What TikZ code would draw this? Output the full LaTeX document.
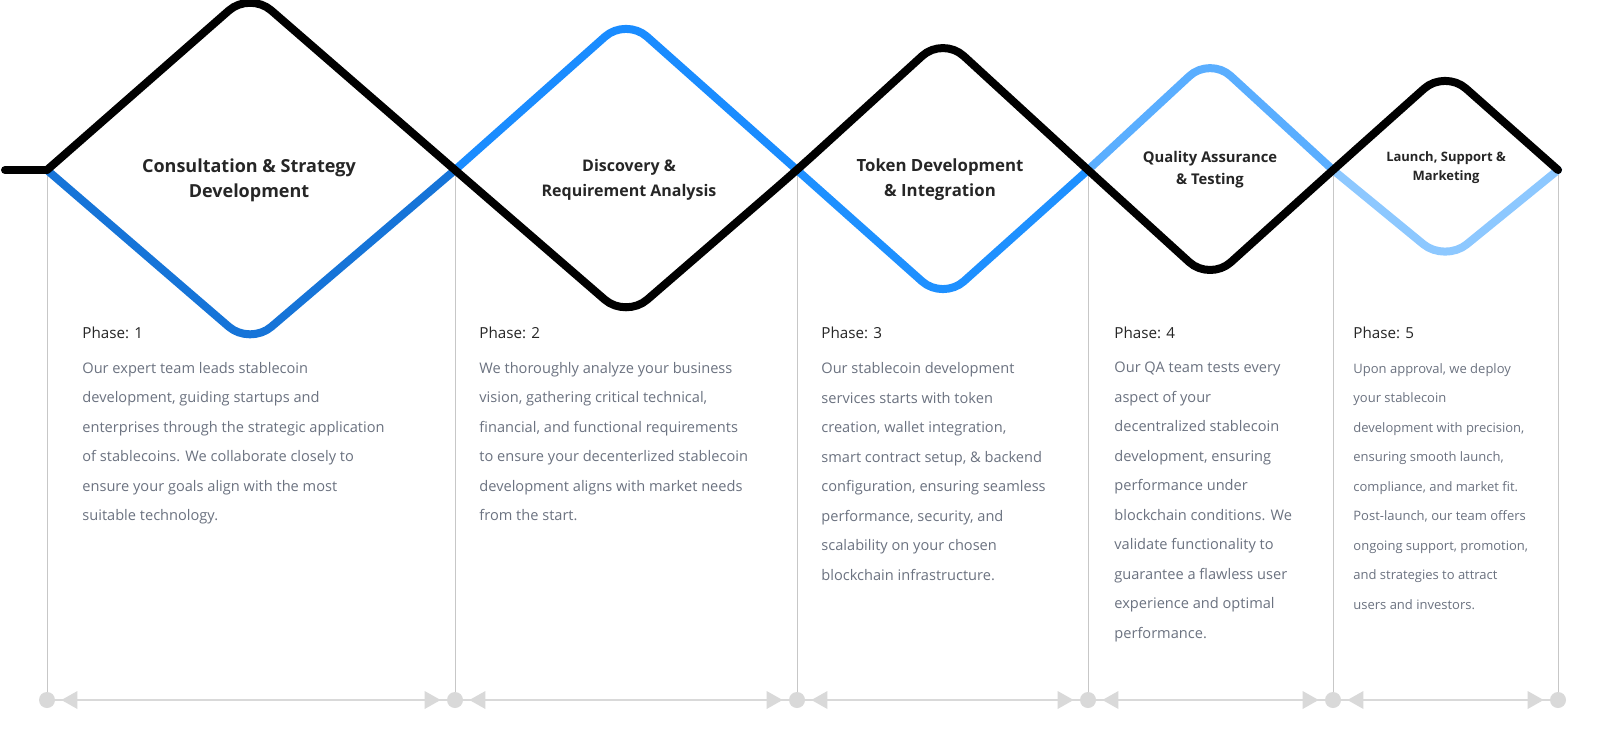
\documentclass[tikz,border=0pt]{standalone}
\usepackage{fontspec}
\setmainfont{Open Sans}
\begin{document}
\begin{tikzpicture}[x=0.5pt,y=-0.5pt,
  wave/.style={line width=4pt,rounded corners=14pt,line cap=round,line join=round},
  vline/.style={draw=black!22,line width=0.5pt},
  title/.style={align=center,font=\fontsize{9}{12.5}\selectfont\bfseries,text=black!85},
  phase/.style={anchor=north west,font=\fontsize{7.6}{10}\selectfont,text=black!85,inner sep=0},
  body/.style={anchor=north west,align=left,font=\fontsize{7.3}{14.75}\selectfont,text=bodyc,inner sep=0},
  dot/.style={circle,fill=black!15,inner sep=0,minimum size=8pt},
  tri/.style={fill=black!15}]
\definecolor{bodyc}{HTML}{6B7280}
\fill[white] (0,0) rectangle (1600,739);
\useasboundingbox (0,0) rectangle (1600,739);
\definecolor{c1}{HTML}{1674D8}
\definecolor{c2}{HTML}{1A8CFF}
\definecolor{c3}{HTML}{1E90FF}
\definecolor{c4}{HTML}{5AAEFF}
\definecolor{c5}{HTML}{8DC8FF}
% columns
\foreach \n/\x in {a/47,b/455,c/797,d/1088,e/1333,f/1558}{
  \coordinate (t\n) at (\x,170);
  \node[dot] (d\n) at (\x,700) {};
  \draw[vline] (t\n) -- (d\n);
}
\foreach \p/\q in {a/b,b/c,c/d,d/e,e/f}{
  \draw[black!15,line width=0.8pt] (d\p) -- (d\q);
  \fill[tri] ([xshift=3pt]d\p.east) -- ++(8pt,-4.5pt) -- ++(0,9pt) -- cycle;
  \fill[tri] ([xshift=-3pt]d\q.west) -- ++(-8pt,-4.5pt) -- ++(0,9pt) -- cycle;
}
% colored waves
\draw[wave,c1] (ta) -- (250,345) -- (tb);
\draw[wave,c2] (tb) -- (626,18) -- (tc);
\draw[wave,c3] (tc) -- (943,300) -- (td);
\draw[wave,c4] (td) -- (1210,57) -- (te);
\draw[wave,c5] (te) -- (1445,262) -- (tf);
% black wave
\coordinate (st) at (5,170);
\draw[wave,black] (st) -- (ta);
\draw[wave,black] (ta) -- (250,-8) -- (tb) -- (626,318) -- (tc) -- (943,37) -- (td) -- (1210,281) -- (te) -- (1445,70) -- (tf);
% titles
\node[title] (h1) at (249,180) {Consultation \& Strategy\\Development};
\node[title,font=\fontsize{8}{12.5}\selectfont\bfseries] (h2) at (629,180) {Discovery \&\\Requirement Analysis};
\node[title,font=\fontsize{8.4}{12.5}\selectfont\bfseries] (h3) at (940,180) {Token Development\\\& Integration};
\node[title,font=\fontsize{7.4}{11}\selectfont\bfseries] (h4) at (1210,170) {Quality Assurance\\\& Testing};
\node[title,font=\fontsize{6.5}{9.5}\selectfont\bfseries] (h5) at (1446,168) {Launch, Support \&\\Marketing};
% phases
\foreach \i/\x in {1/82,2/479,3/821,4/1114,5/1353}{
  \node[phase] (p\i) at (\x,327) {Phase: \i};
}
\node[body] (b1) at (82,362) {Our expert team leads stablecoin\\development, guiding startups and\\enterprises through the strategic application\\of stablecoins. We collaborate closely to\\ensure your goals align with the most\\suitable technology.};
\node[body] (b2) at (479,362) {We thoroughly analyze your business\\vision, gathering critical technical,\\financial, and functional requirements\\to ensure your decenterlized stablecoin\\development aligns with market needs\\from the start.};
\node[body] (b3) at (821,362) {Our stablecoin development\\services starts with token\\creation, wallet integration,\\smart contract setup, \& backend\\configuration, ensuring seamless\\performance, security, and\\scalability on your chosen\\blockchain infrastructure.};
\node[body] (b4) at (1114,362) {Our QA team tests every\\aspect of your\\decentralized stablecoin\\development, ensuring\\performance under\\blockchain conditions. We\\validate functionality to\\guarantee a flawless user\\experience and optimal\\performance.};
\node[body,font=\fontsize{6.5}{14.75}\selectfont] (b5) at (1353,363) {Upon approval, we deploy\\your stablecoin\\development with precision,\\ensuring smooth launch,\\compliance, and market fit.\\Post-launch, our team offers\\ongoing support, promotion,\\and strategies to attract\\users and investors.};
\end{tikzpicture}
\end{document}
